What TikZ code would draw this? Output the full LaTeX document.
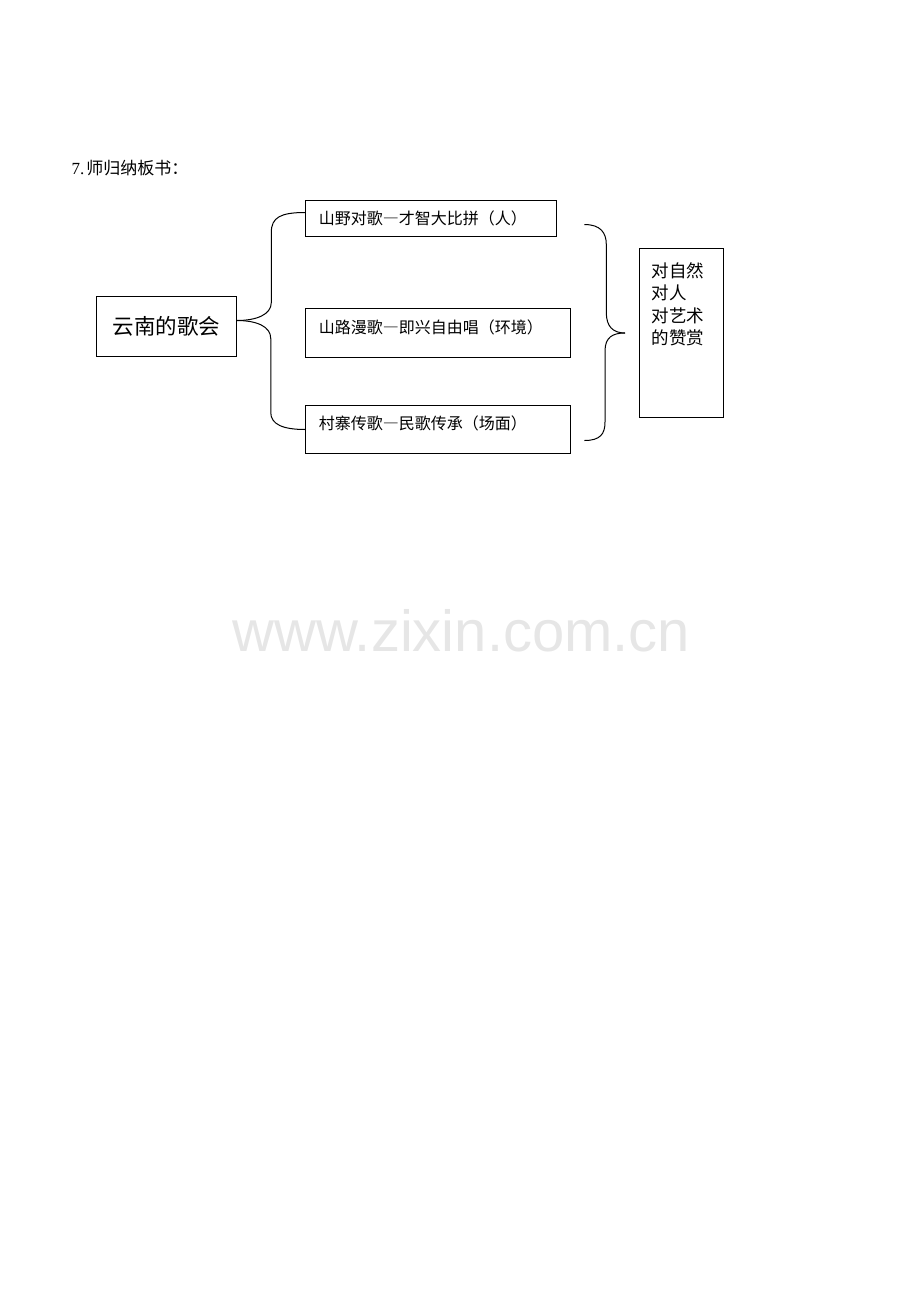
\documentclass[tikz,border=0pt]{standalone}
\usepackage{fontspec}
\setmainfont{Liberation Serif}
\newfontfamily\cjk{Noto Sans CJK SC}
\newfontfamily\cjkfw[RawFeature=+fwid]{Noto Sans CJK SC}
\newfontfamily\wmfont{Liberation Sans}
\usepackage{tikz}
\usetikzlibrary{calc,positioning}
\definecolor{wmgray}{HTML}{E6E6E6}
\newcommand\fdash{{\cjkfw —}}

\begin{document}
\begin{tikzpicture}[x=1pt, y=-1pt, line width=1pt,
		box/.style={draw, anchor=north west, inner xsep=13pt, inner ysep=0pt, align=left,
			text height=24.3pt, font=\cjk\fontsize{16}{16}\selectfont},
		brace/.style={line width=1pt}]
		%%%%% START %%%%%
		
		\useasboundingbox (0, 0) rectangle (920, 1302);
		
		\node[anchor=base west, inner sep=0pt] (title) at (71, 174)
			{\fontsize{17}{17}\selectfont 7.\kern2pt\cjk 师归纳板书：};
		
		\node[draw, minimum width=139.5pt, minimum height=60pt, inner sep=0pt,
			font=\cjk\fontsize{21.5}{21.5}\selectfont] (yun) at (166.5, 326.5) {云南的歌会};
		
		\node[box, text width=225pt, text depth=11.7pt] (ye) at (305.3, 200) {山野对歌\fdash 才智大比拼（人）};
		\node[box, text width=239pt, text depth=24.1pt] (lu) at (305.3, 308.3) {山路漫歌\fdash 即兴自由唱（环境）};
		\node[box, text width=239pt, text depth=23.7pt] (cun) at (305.3, 405) {村寨传歌\fdash 民歌传承（场面）};
		
		\node[draw, anchor=north west, inner xsep=12pt, inner ysep=0pt, text width=60pt, align=left,
			text height=28.6pt, text depth=140.4pt,
			font=\cjk\fontsize{17.5}{22.5}\selectfont] (zan) at (639, 248) {对自然\\对人\\对艺术\\的赞赏};
		
		% left brace
		\coordinate (lTop) at ($(ye.west)+(0,-6)$);
		\coordinate (lTip) at ($(yun.east)+(0,-6)$);
		\coordinate (lBot) at (cun.west);
		\draw[brace] (lTop) .. controls +(-25,0) and +(0,-15) .. ++(-34,20) -- ++(0,70)
			.. controls +(0,12) and +(20,0) .. (lTip);
		\draw[brace] (lTip) .. controls +(20,0) and +(0,-12) .. ++(34,18) -- ++(0,74)
			.. controls +(0,12) and +(-22,0) .. (lBot);
		
		% right brace
		\coordinate (rTop) at ($(ye.east)+(27,6)$);
		\coordinate (rTip) at ($(zan.west)+(-14,0)$);
		\coordinate (rBot) at ($(cun.east)+(13,11)$);
		\draw[brace] (rTop) .. controls +(16,0) and +(0,-12) .. ++(22,20) -- ++(0,68)
			.. controls +(0,14) and +(-12,0) .. (rTip);
		\draw[brace] (rTip) .. controls +(-12,0) and +(0,-14) .. ++(-20,18) -- ++(0,71)
			.. controls +(0,12) and +(16,0) .. (rBot);
		
		\node[anchor=base west, inner sep=0pt, text=wmgray,
			font=\wmfont\fontsize{58}{58}\selectfont] (mark) at (232, 651) {www.zixin.com.cn};
		
		%%%%% END %%%%%
	\end{tikzpicture}
\end{document}
